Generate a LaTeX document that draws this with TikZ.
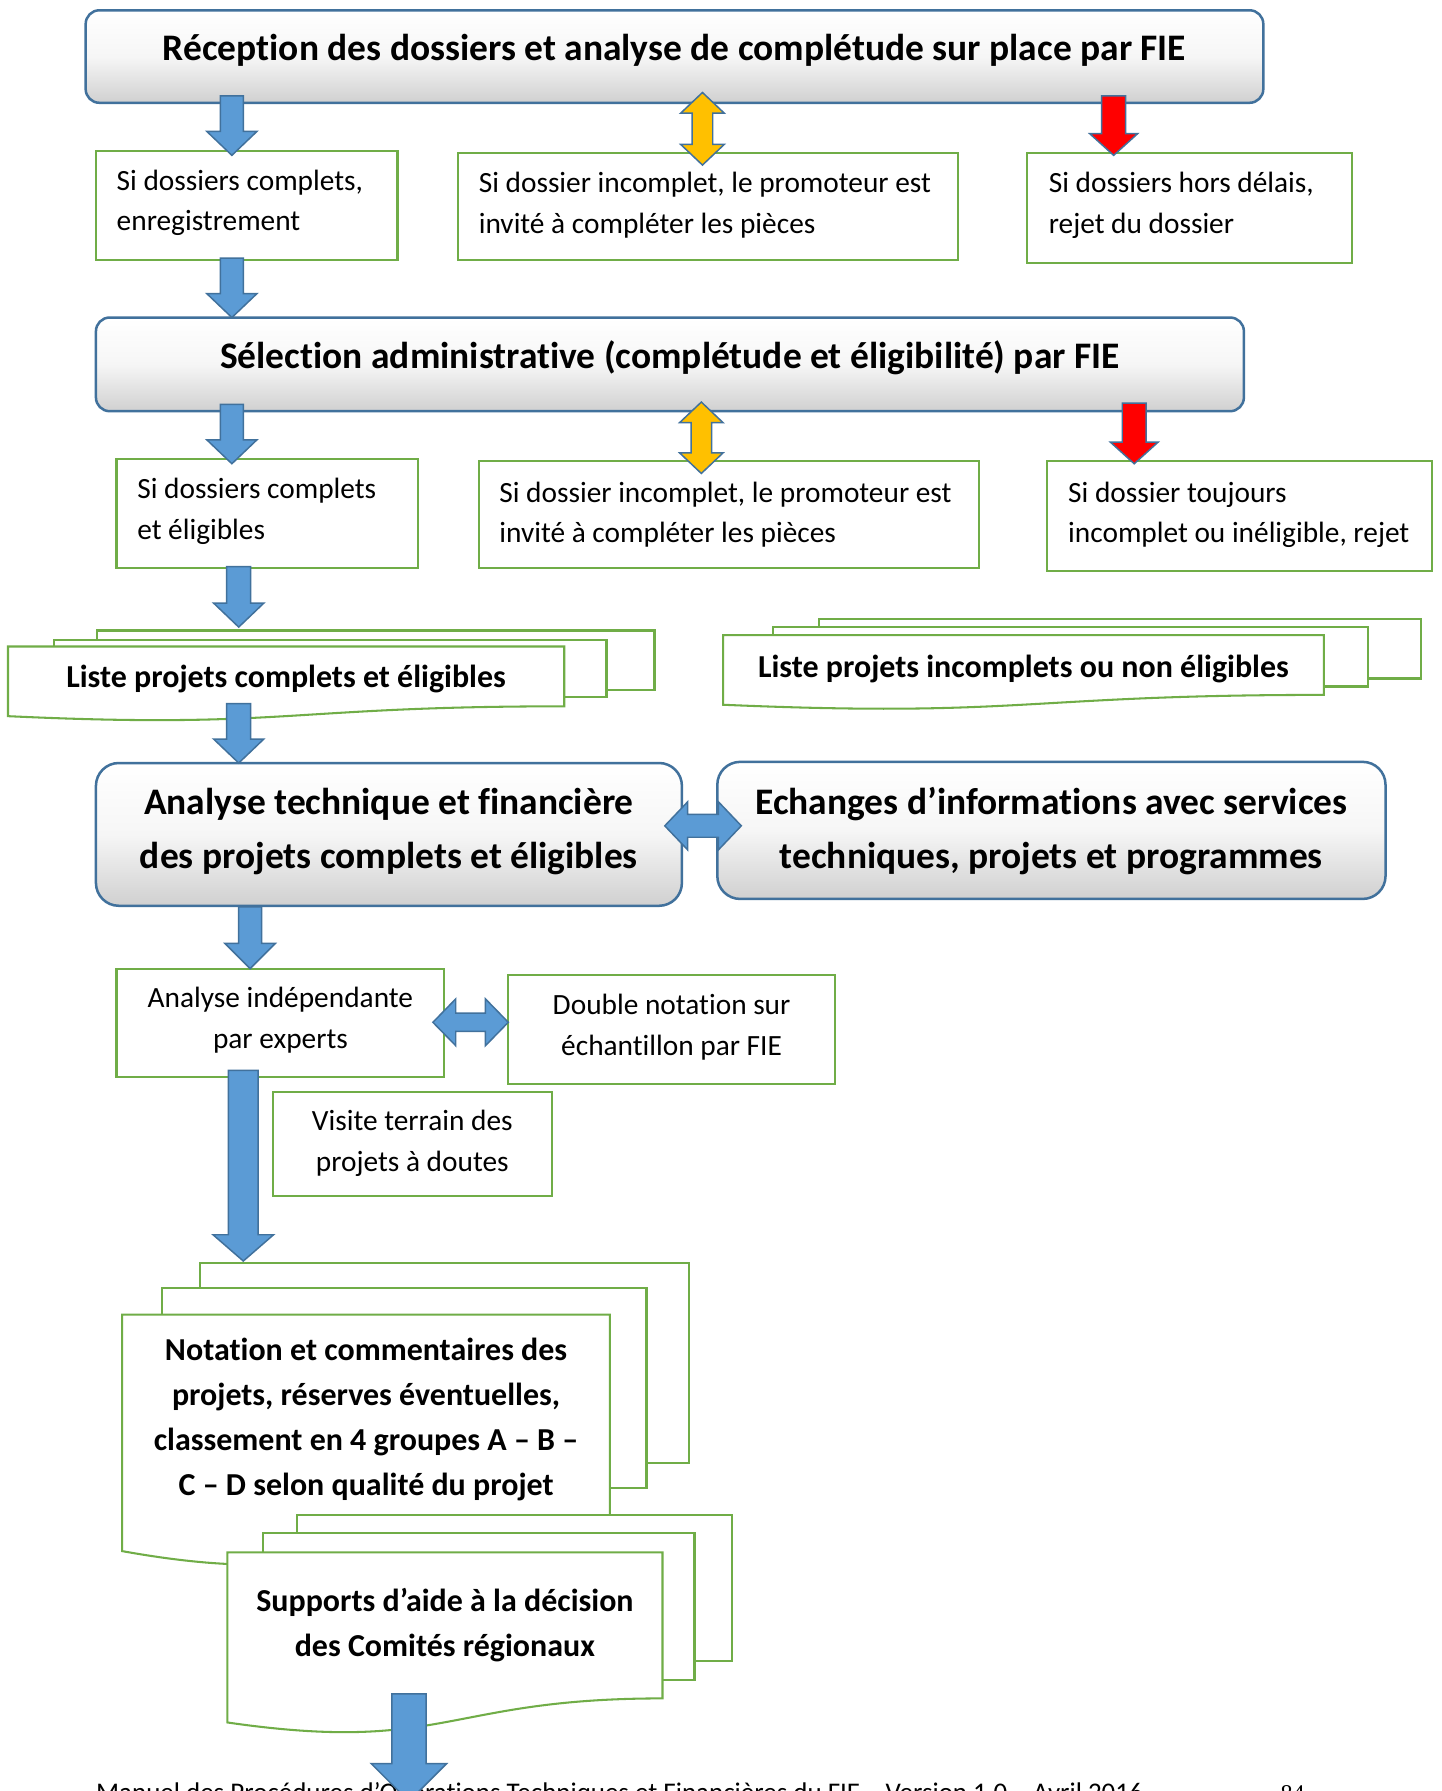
\documentclass[tikz,border=0pt]{standalone}
\usepackage{fontspec}
\setmainfont{Carlito}[Ligatures={NoCommon}]
\newfontfamily\timesfont{Liberation Serif}
\definecolor{grn}{RGB}{112,173,71}
\definecolor{bord}{RGB}{65,113,156}
\definecolor{bfill}{RGB}{91,155,213}
\definecolor{yfill}{RGB}{255,192,0}
\definecolor{rfill}{RGB}{255,0,0}
\definecolor{gbot}{RGB}{208,208,208}
\definecolor{gmid}{RGB}{246,246,246}

\newcommand{\DnArrow}[7]{%
  \pgfmathsetmacro\xa{#1-#4}\pgfmathsetmacro\xb{#1+#4}%
  \pgfmathsetmacro\xc{#1-#5}\pgfmathsetmacro\xd{#1+#5}%
  \pgfmathsetmacro\yh{#3-#6}%
  \draw[#7] (\xa,#2) -- (\xb,#2) -- (\xb,\yh) -- (\xd,\yh) -- (#1,#3) -- (\xc,\yh) -- (\xa,\yh) -- cycle;}
\newcommand{\VdArrow}[7]{%
  \pgfmathsetmacro\xa{#1-#4}\pgfmathsetmacro\xb{#1+#4}%
  \pgfmathsetmacro\xc{#1-#5}\pgfmathsetmacro\xd{#1+#5}%
  \pgfmathsetmacro\ya{#2+#6}\pgfmathsetmacro\yb{#3-#6}%
  \draw[#7] (#1,#2) -- (\xd,\ya) -- (\xb,\ya) -- (\xb,\yb) -- (\xd,\yb) -- (#1,#3) -- (\xc,\yb) -- (\xa,\yb) -- (\xa,\ya) -- (\xc,\ya) -- cycle;}
\newcommand{\HdArrow}[7]{%
  \pgfmathsetmacro\ya{#1-#4}\pgfmathsetmacro\yb{#1+#4}%
  \pgfmathsetmacro\yc{#1-#5}\pgfmathsetmacro\yd{#1+#5}%
  \pgfmathsetmacro\xa{#2+#6}\pgfmathsetmacro\xb{#3-#6}%
  \draw[#7] (#2,#1) -- (\xa,\yc) -- (\xa,\ya) -- (\xb,\ya) -- (\xb,\yc) -- (#3,#1) -- (\xb,\yd) -- (\xb,\yb) -- (\xa,\yb) -- (\xa,\yd) -- cycle;}
\newcommand{\DocFront}[5]{%
  \pgfmathsetmacro\dm{(#1+#3)/2}\pgfmathsetmacro\dr{#2+0.802*#4}%
  \pgfmathsetmacro\dl{#2+0.934*#4}\pgfmathsetmacro\dc{#2+1.1075*#4}%
  \draw[#5] (#1,#2) -- (#3,#2) -- (#3,\dr) .. controls (\dm,\dr) and (\dm,\dc) .. (#1,\dl) -- cycle;}

\tikzset{
  gbox/.style={draw=grn, line width=1.8pt, fill=white, rectangle, inner sep=0pt},
  rbox/.style={draw=bord, line width=2.2pt, rectangle, rounded corners=12pt, inner sep=0pt,
    top color=white, bottom color=gbot, middle color=gmid},
  rboxb/.style={rbox, rounded corners=20pt},
  docst/.style={draw=grn, line width=1.8pt, fill=white, line join=miter},
  barrow/.style={draw=bord, line width=1.3pt, fill=bfill, line join=miter},
  yarrow/.style={draw=bord, line width=1.3pt, fill=yfill, line join=miter},
  rarrow/.style={draw=bord, line width=1.3pt, fill=rfill, line join=miter},
  regtxt/.style={inner sep=0pt, align=left, font=\fontsize{25.7}{35.5}\selectfont},
  regctr/.style={inner sep=0pt, align=center, font=\fontsize{25.7}{36}\selectfont},
  ttl/.style={inner sep=0pt, font=\bfseries\fontsize{32.8}{38}\selectfont},
  bigttl/.style={inner sep=0pt, align=center, font=\bfseries\fontsize{32.8}{46.5}\selectfont},
  midttl/.style={inner sep=0pt, align=center, font=\bfseries\fontsize{28}{39.3}\selectfont},
}

\begin{document}
\begin{tikzpicture}[x=1pt,y=-1pt]
\useasboundingbox (0,0) rectangle (1262,1568);
\fill[white] (0,0) rectangle (1262,1568);

% footer (drawn first, arrow passes over it; cut by the page edge as in the reference)
\node[inner sep=0pt, anchor=base west, font=\fontsize{23.6}{28}\selectfont] (footer) at (84,1577)
  {Manuel des Procédures d’Opérations Techniques et Financières du FIE – Version 1.0 – Avril 2016};
\node[inner sep=0pt, anchor=base west, font=\timesfont\fontsize{21}{25}\selectfont] (pagenum) at (1121,1577) {84};

% top box
\node[rbox, minimum width=1031, minimum height=81] (recep) at (590.5,49.5) {};
\node[ttl, anchor=base] (recept) at (590.5,53) {Réception des dossiers et analyse de complétude sur place par FIE};

% row 1
\node[gbox, minimum width=264, minimum height=96] (r1a) at (216,180) {};
\node[gbox, minimum width=438, minimum height=94] (r1b) at (620,181) {};
\node[gbox, minimum width=285, minimum height=96] (r1c) at (1041.5,182) {};
\node[regtxt, anchor=base west] (r1at) at (102,202) {Si dossiers complets,\\enregistrement};
\node[regtxt, anchor=base west] (r1bt) at (419,204) {Si dossier incomplet, le promoteur est\\invité à compléter les pièces};
\node[regtxt, anchor=base west] (r1ct) at (918,204) {Si dossiers hors délais,\\rejet du dossier};

% selection box
\node[rbox, minimum width=1005, minimum height=82] (selec) at (586.5,319) {};
\node[ttl, anchor=base] (select) at (586.5,323) {Sélection administrative (complétude et éligibilité) par FIE};

% row 2
\node[gbox, minimum width=264, minimum height=95] (r2a) at (234,449.5) {};
\node[gbox, minimum width=438, minimum height=93] (r2b) at (638,450.5) {};
\node[gbox, minimum width=337, minimum height=96] (r2c) at (1085.5,452) {};
\node[regtxt, anchor=base west] (r2at) at (120,472) {Si dossiers complets\\et éligibles};
\node[regtxt, anchor=base west] (r2bt) at (437,475) {Si dossier incomplet, le promoteur est\\invité à compléter les pièces};
\node[regtxt, anchor=base west] (r2ct) at (935,475) {Si dossier toujours\\incomplet ou inéligible, rejet};

% liste left
\draw[docst] (85,552) rectangle (573,604);
\draw[docst] (47,560) rectangle (531,610);
\DocFront{7}{566}{494}{65.3}{docst}
\node[midttl, anchor=base] (listeok) at (250.5,602) {Liste projets complets et éligibles};

% liste right
\draw[docst] (717,542) rectangle (1244,594);
\draw[docst] (677,549) rectangle (1198,601);
\DocFront{633}{556}{1159}{65.3}{docst}
\node[midttl, anchor=base] (listeko) at (896,593) {Liste projets incomplets ou non éligibles};

% analyse / echanges
\node[rboxb, minimum width=513, minimum height=125] (analyse) at (340.5,730.5) {};
\node[bigttl, anchor=base] (analyset) at (340.5,760) {Analyse technique et financière\\des projets complets et éligibles};
\node[rboxb, minimum width=585, minimum height=120] (echanges) at (920.5,727) {};
\node[bigttl, anchor=base] (echangest) at (920.5,760) {Echanges d’informations avec services\\techniques, projets et programmes};

% experts row
\node[gbox, minimum width=287, minimum height=95] (experts) at (245.5,895.5) {};
\node[regctr, anchor=base] (expertst) at (245.5,918) {Analyse indépendante\\par experts};
\node[gbox, minimum width=286, minimum height=95] (double) at (588,901.5) {};
\node[regctr, anchor=base] (doublet) at (588,924) {Double notation sur\\échantillon par FIE};
\node[gbox, minimum width=244, minimum height=91] (visite) at (361,1001.5) {};
\node[regctr, anchor=base] (visitet) at (361,1026) {Visite terrain des\\projets à doutes};

% notation doc
\draw[docst] (175,1106) rectangle (603,1281);
\draw[docst] (142,1128) rectangle (566,1303);
\DocFront{107}{1151}{534}{221.6}{docst}
\node[midttl, anchor=base] (notation) at (320.5,1309) {Notation et commentaires des\\projets, réserves éventuelles,\\classement en 4 groupes A – B –\\C – D selon qualité du projet};

% supports doc
\draw[docst] (260,1326) rectangle (641,1454);
\draw[docst] (230,1342) rectangle (608,1471);
\DocFront{199}{1359}{580}{159.5}{docst}
\node[midttl, anchor=base] (supports) at (389.5,1450) {Supports d’aide à la décision\\des Comités régionaux};

% arrows
\DnArrow{203}{84}{136}{10}{22}{21}{barrow}
\VdArrow{615}{81}{144.5}{9}{19}{18}{yarrow}
\DnArrow{975}{84}{136}{10.5}{21}{19}{rarrow}
\DnArrow{203}{226}{278}{10}{22}{21}{barrow}
\DnArrow{203}{354}{406}{10}{22}{21}{barrow}
\VdArrow{614}{352}{414.5}{9}{19}{18}{yarrow}
\DnArrow{993}{353}{406}{10.5}{21}{19}{rarrow}
\DnArrow{209}{496}{549}{10.5}{22}{21}{barrow}
\DnArrow{209}{616}{668}{10.5}{22}{21}{barrow}
\HdArrow{723}{582}{649}{10}{21}{20}{barrow}
\DnArrow{219}{794}{848}{10}{22}{22}{barrow}
\HdArrow{895}{379}{445}{8}{20.5}{20}{barrow}
\DnArrow{213}{937}{1104}{13}{26.5}{23}{barrow}
\DnArrow{358}{1483}{1577}{15}{33}{33}{barrow}
\end{tikzpicture}
\end{document}
